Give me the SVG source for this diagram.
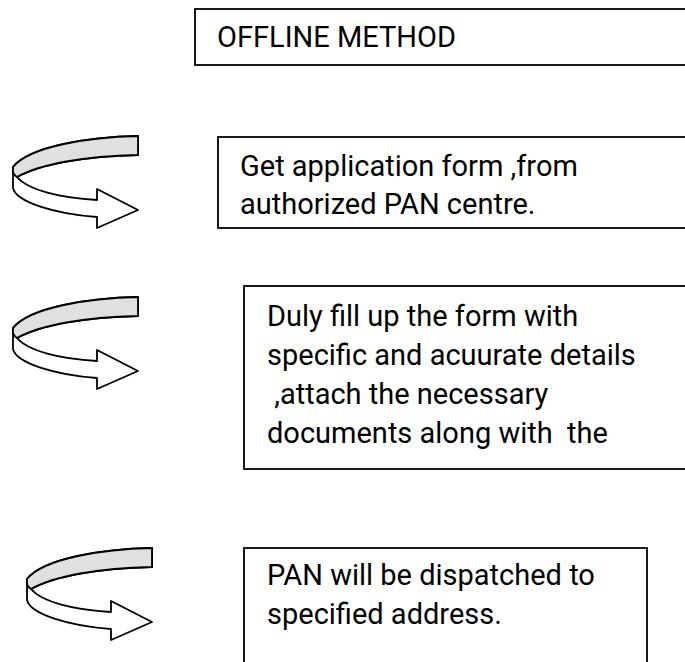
<svg xmlns="http://www.w3.org/2000/svg" width="685" height="662" viewBox="0 0 685 662">
<defs>
<style>
.box{fill:#fff;stroke:#000;stroke-width:1.8}
.t{font-family:Roboto,"Liberation Sans",sans-serif;font-size:29px;fill:#000}
.ao{fill:#fff;stroke:#000;stroke-width:1.8;stroke-linejoin:round}
.ag{fill:#e0e0e0;stroke:#000;stroke-width:1.8;stroke-linejoin:round}
</style>
<g id="curved-arrow">
<path class="ao" d="M138,136 C90,137 30,146 13,167 L13,188 C16,202 55,214 97,217 L97,228 L138,210 L97,189 L97,200 C60,198 28,190 17,177 C40,164 85,156 138,155 Z"/>
<path class="ag" d="M138,136 C90,137 30,146 13,167 L13,172 C14,175 15,176 17,177 C40,164 85,156 138,155 Z"/>
</g>
</defs>
<rect width="685" height="662" fill="#fff"/>
<g id="node-offline">
<rect class="box" x="195" y="9" width="500" height="56"/>
<text class="t" x="217" y="47">OFFLINE METHOD</text>
</g>
<g id="arrows">
<use href="#curved-arrow"/>
<use href="#curved-arrow" transform="translate(0,161)"/>
<use href="#curved-arrow" transform="translate(14,412)"/>
</g>
<g id="node-get-form">
<rect class="box" x="218" y="137" width="480" height="91"/>
<text class="t" x="240" y="176">Get application form ,from</text>
<text class="t" x="240" y="214">authorized PAN centre.</text>
</g>
<g id="node-fill-form">
<rect class="box" x="244" y="286" width="460" height="183"/>
<text class="t" x="267" y="326">Duly fill up the form with</text>
<text class="t" x="267" y="365">specific and acuurate details</text>
<text class="t" x="267" y="404" xml:space="preserve"> ,attach the necessary</text>
<text class="t" x="267" y="443" xml:space="preserve">documents along with  the</text>
</g>
<g id="node-dispatch">
<rect class="box" x="244" y="548" width="403" height="130"/>
<text class="t" x="267" y="585">PAN will be dispatched to</text>
<text class="t" x="267" y="624">specified address.</text>
</g>
</svg>
